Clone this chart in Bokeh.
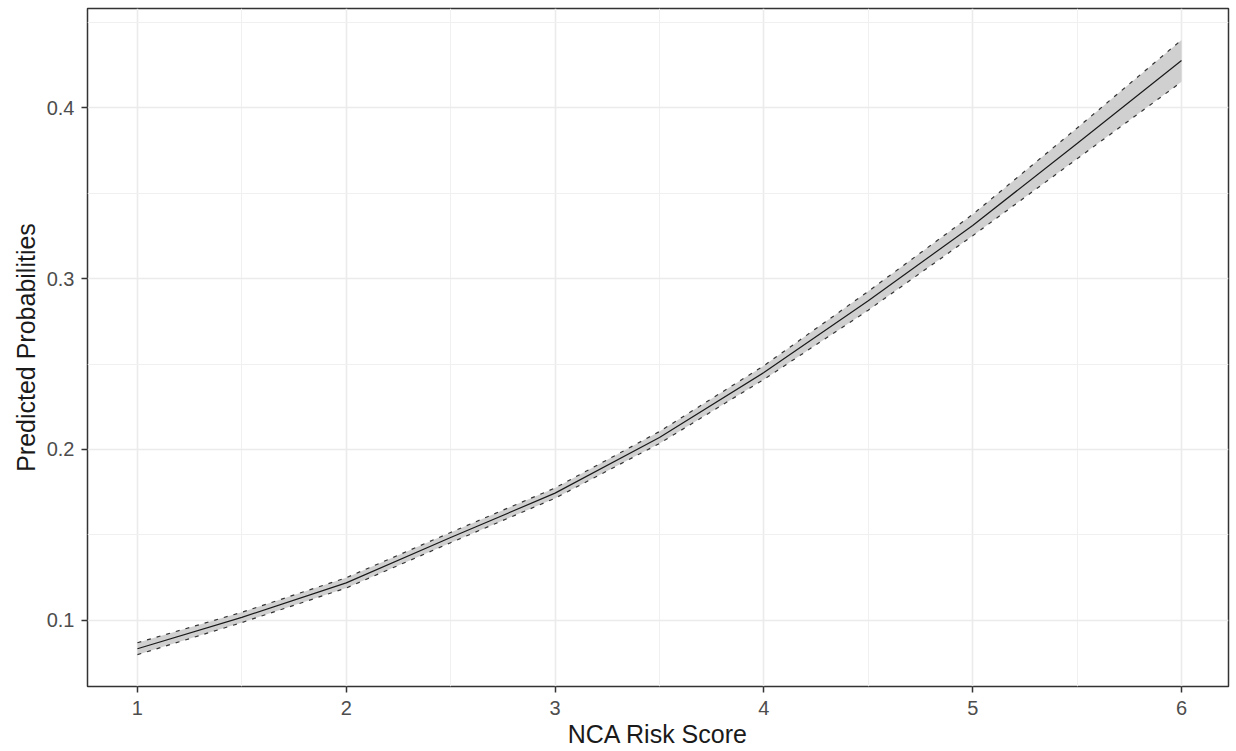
from bokeh.plotting import figure
from bokeh.models import Range1d, FixedTicker, ColumnDataSource
from bokeh.embed import file_html
from bokeh.resources import INLINE

# Predicted probability by NCA risk score, with confidence bounds
risk_score = [1, 1.5, 2, 2.5, 3, 3.5, 4, 4.5, 5, 5.5, 6]
predicted = [0.0835, 0.1018, 0.1220, 0.1485, 0.1745, 0.2070, 0.2450, 0.2870, 0.3310, 0.3790, 0.4275]
lower_ci = [0.0800, 0.0988, 0.1190, 0.1455, 0.1715, 0.2035, 0.2410, 0.2815, 0.3250, 0.3700, 0.4150]
upper_ci = [0.0870, 0.1048, 0.1250, 0.1515, 0.1775, 0.2105, 0.2490, 0.2925, 0.3375, 0.3880, 0.4395]

x_ticks = [1, 2, 3, 4, 5, 6]
x_minor = [1.5, 2.5, 3.5, 4.5, 5.5]
y_ticks = [0.1, 0.2, 0.3, 0.4]
y_minor = [0.15, 0.25, 0.35, 0.45]

src = ColumnDataSource(dict(x=risk_score, y=predicted, lo=lower_ci, hi=upper_ci))

p = figure(width=1236, height=751, output_backend="svg", toolbar_location=None,
           x_range=Range1d(0.761, 6.225), y_range=Range1d(0.0614, 0.4579),
           min_border_left=87, min_border_right=8, min_border_top=8, min_border_bottom=65)

p.background_fill_color = "white"
p.border_fill_color = "white"
p.outline_line_color = "#333333"
p.outline_line_width = 1.5

p.xaxis.ticker = FixedTicker(ticks=x_ticks, minor_ticks=x_minor)
p.yaxis.ticker = FixedTicker(ticks=y_ticks, minor_ticks=y_minor)
p.xgrid.ticker = FixedTicker(ticks=x_ticks, minor_ticks=x_minor)
p.ygrid.ticker = FixedTicker(ticks=y_ticks, minor_ticks=y_minor)
p.yaxis.major_label_overrides = {0.1: "0.1", 0.2: "0.2", 0.3: "0.3", 0.4: "0.4"}

for g in (p.xgrid, p.ygrid):
    g.grid_line_color = "#EBEBEB"
    g.grid_line_width = 1.6
    g.minor_grid_line_color = "#F0F0F0"
    g.minor_grid_line_width = 1

for ax in (p.xaxis, p.yaxis):
    ax.axis_line_color = None
    ax.major_tick_line_color = "#333333"
    ax.major_tick_line_width = 1.5
    ax.major_tick_out = 6
    ax.major_tick_in = 0
    ax.minor_tick_line_color = None
    ax.major_label_text_font = "Liberation Sans"
    ax.major_label_text_font_size = "20px"
    ax.major_label_text_color = "#4D4D4D"
    ax.axis_label_text_font = "Liberation Sans"
    ax.axis_label_text_font_size = "25px"
    ax.axis_label_text_font_style = "normal"
    ax.axis_label_text_color = "#1A1A1A"

p.xaxis.axis_label = "NCA Risk Score"
p.yaxis.axis_label = "Predicted Probabilities"
p.xaxis.major_label_standoff = 8
p.yaxis.major_label_standoff = 7
p.xaxis.axis_label_standoff = 2
p.yaxis.axis_label_standoff = 4

# confidence ribbon
p.varea(x="x", y1="lo", y2="hi", source=src, fill_color="#C8C8C8", fill_alpha=0.85)
p.line(x="x", y="lo", source=src, line_color="#333333", line_width=1.2, line_dash="4 6")
p.line(x="x", y="hi", source=src, line_color="#333333", line_width=1.2, line_dash="4 6")
# fitted curve
p.line(x="x", y="y", source=src, line_color="#1A1A1A", line_width=1.2)

open("out.html", "w").write(file_html(p, INLINE))
